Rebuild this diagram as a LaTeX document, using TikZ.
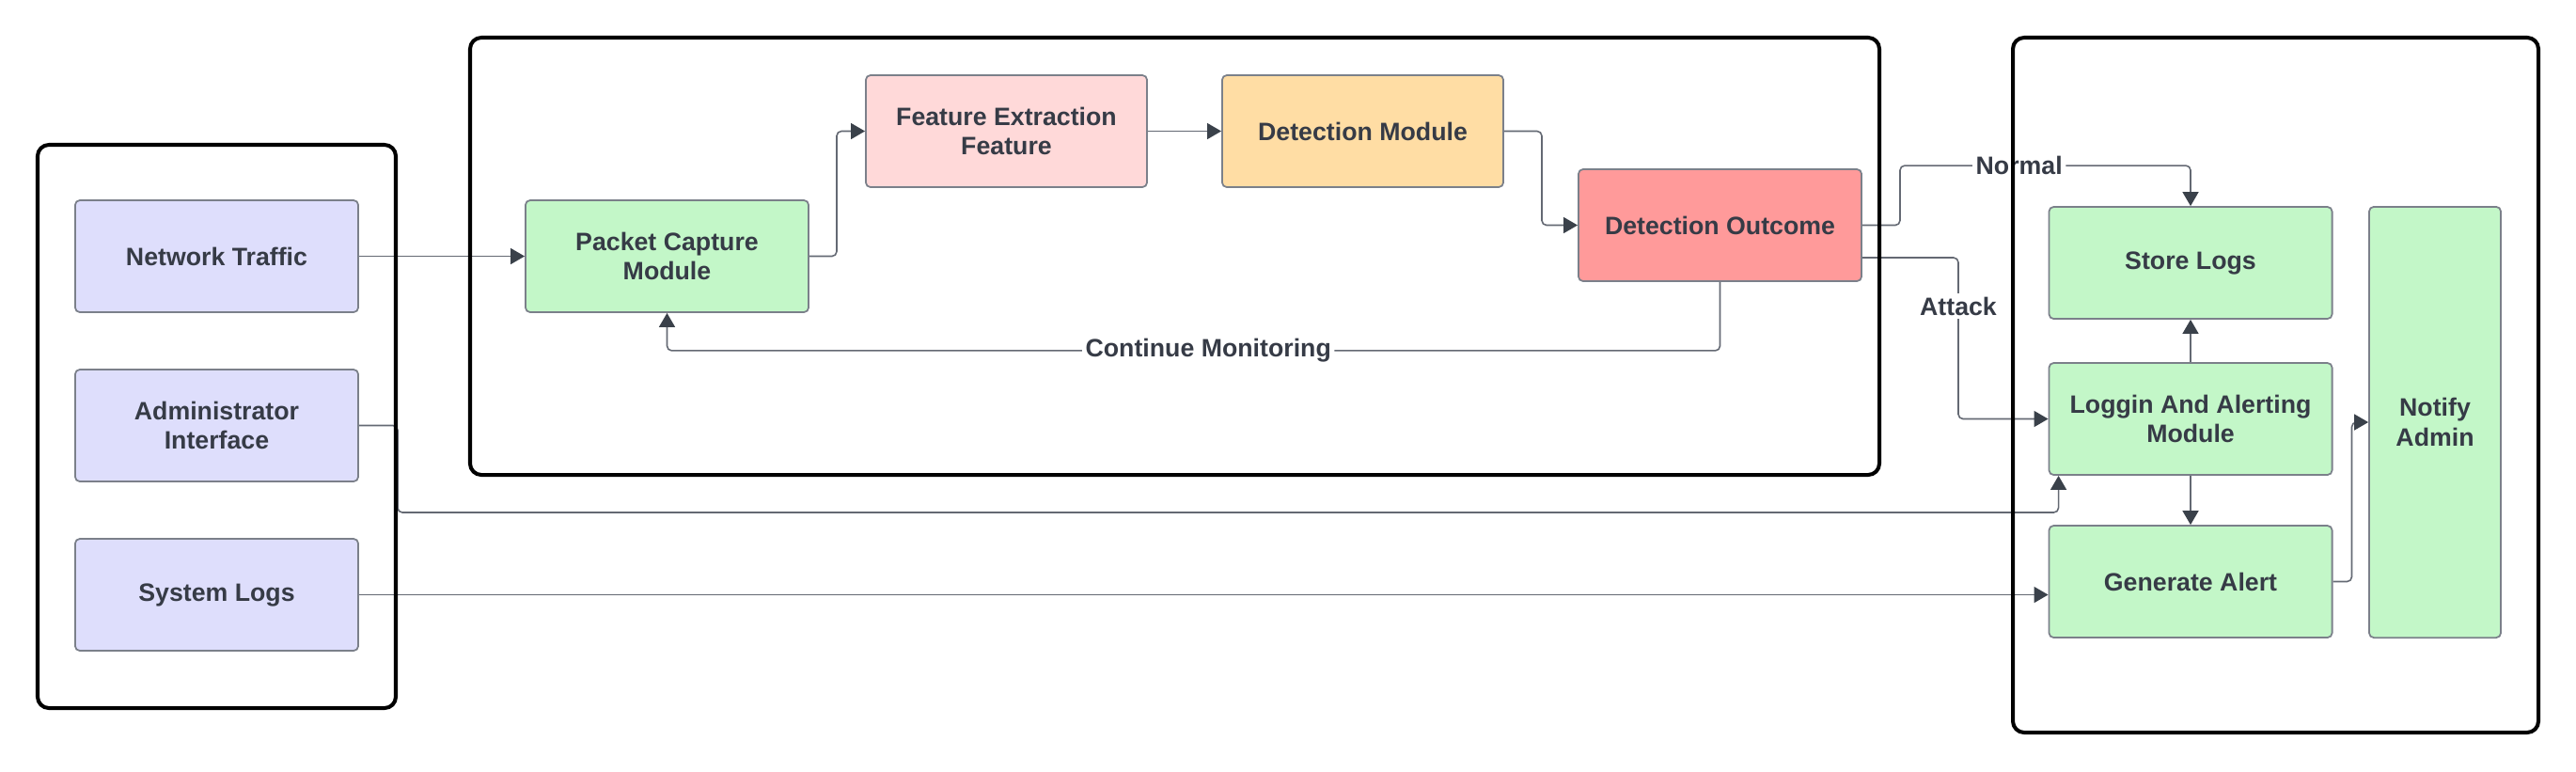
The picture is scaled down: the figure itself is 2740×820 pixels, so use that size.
\documentclass[tikz,border=0pt]{standalone}
\usepackage{fontspec}
\setmainfont{Liberation Sans}
\usetikzlibrary{arrows.meta}
\definecolor{lav}{HTML}{DEDEFC}
\definecolor{grn}{HTML}{C3F7C8}
\definecolor{pnk}{HTML}{FFD9D9}
\definecolor{org}{HTML}{FFDDA4}
\definecolor{rd}{HTML}{FF9A9A}
\definecolor{boxln}{HTML}{7B808A}
\definecolor{lnc}{HTML}{646973}
\definecolor{tip}{HTML}{3A414A}
\definecolor{txt}{HTML}{363B46}
\begin{document}
\begin{tikzpicture}[x=0.01cm,y=-0.01cm,
	box/.style={draw=boxln,line width=0.5pt,rounded corners=0.05cm,minimum width=3.01cm,minimum height=1.19cm,align=center,text=txt,font=\fontsize{7.6}{9}\selectfont\bfseries},
	grp/.style={draw=black,line width=1.15pt,rounded corners=0.12cm},
	arr/.style={draw=lnc,line width=0.45pt,rounded corners=0.05cm,-{Triangle[length=0.15cm,width=0.17cm,color=tip]}},
	lbl/.style={fill=white,text=txt,inner sep=1pt,font=\fontsize{7.6}{9}\selectfont\bfseries}]
	\useasboundingbox(0,0)rectangle(2740,820);
	\node[box,fill=lav](nt)at(230.5,272.5){Network Traffic};
	\node[box,fill=lav](adm)at(230.5,452.5){Administrator\\Interface};
	\node[box,fill=lav](sl)at(230.5,632.5){System Logs};
	\node[box,fill=grn](pc)at(709.5,272.5){Packet Capture\\Module};
	\node[box,fill=pnk,minimum width=2.99cm](fe)at(1070.5,139.5){Feature Extraction\\Feature};
	\node[box,fill=org,minimum width=2.99cm](dm)at(1449.5,139.5){Detection Module};
	\node[box,fill=rd](dout)at(1829.5,239.5){Detection Outcome};
	\node[box,fill=grn](st)at(2330,279.5){Store Logs};
	\node[box,fill=grn](lg)at(2330,445.5){Loggin And Alerting\\Module};
	\node[box,fill=grn](ga)at(2330,618.5){Generate Alert};
	\node[box,fill=grn,minimum width=1.4cm,minimum height=4.58cm](na)at(2590,449){Notify\\Admin};
	\draw[arr](nt.east)--(pc.west);
	\draw[arr](pc.east)--++(29,0)|-(fe.west);
	\draw[arr](fe.east)--(dm.west);
	\draw[arr](dm.east)--++(40,0)|-(dout.west);
	\draw[arr](dout.south)--++(0,73)-|node[lbl,pos=0.243](cmon){Continue Monitoring}(pc.south);
	\draw[arr](dout.east)--++(40,0)|-node[lbl,pos=0.705](nrm){Normal}([yshift=0.43cm]st.north)--(st.north);
	\draw[arr]([yshift=-0.345cm]dout.east)--++(102,0)|-node[lbl,pos=0.15](atk){Attack}(lg.west);
	\draw[arr](lg.north)--(st.south);
	\draw[arr](lg.south)--(ga.north);
	\draw[arr](ga.east)--++(20,0)|-(na.west);
	\draw[arr](adm.east)--++(41,0)--++(0,92.5)-|([xshift=0.11cm]lg.south west);
	\draw[arr](sl.east)--(sl.east-|ga.west);
	\draw[grp](40,154)rectangle(421,753);
	\draw[grp](500,40)rectangle(1999,505);
	\draw[grp](2141,40)rectangle(2700,779);
\end{tikzpicture}
\end{document}
